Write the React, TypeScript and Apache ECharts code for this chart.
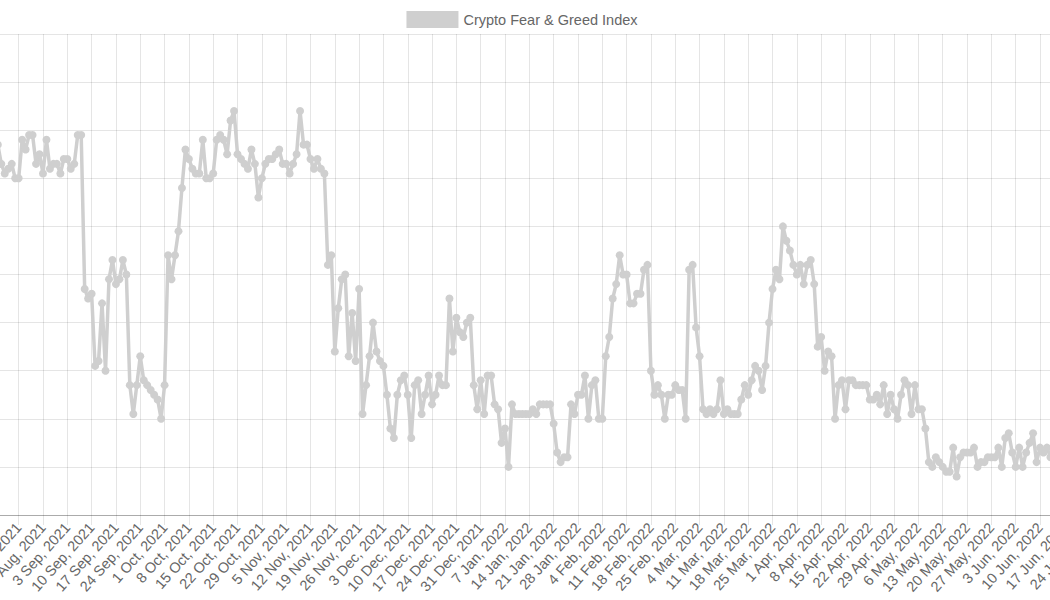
import React, { useEffect, useRef } from "react";
import * as echarts from "echarts";

const SERIES_NAME = "Crypto Fear & Greed Index";
const LINE_COLOR = "#cfcfcf";
const FONT = "'Liberation Sans', Arial, Helvetica, sans-serif";

// Daily categories: 13 Aug 2021 .. 24 Jun 2022
const START_UTC = Date.UTC(2021, 7, 13);
const CATEGORY_DAYS = 316;
const MONTH_NAMES = ["Jan", "Feb", "Mar", "Apr", "May", "Jun", "Jul", "Aug", "Sep", "Oct", "Nov", "Dec"];

// Fear & Greed index values per month
const aug2021 = [74, 77, 73, 71, 72, 73, 70, 70, 78, 76, 79, 79, 73, 75, 71, 78, 72, 73, 73];
const sep2021 = [71, 74, 74, 72, 73, 79, 79, 47, 45, 46, 31, 32, 44, 30, 49, 53, 48, 49, 53, 50, 27, 21, 27, 33, 28, 27, 26, 25, 24, 20];
const oct2021 = [27, 54, 49, 54, 59, 68, 76, 74, 72, 71, 71, 78, 70, 70, 71, 78, 79, 78, 75, 82, 84, 75, 74, 73, 72, 76, 73, 66, 70, 73, 74];
const nov2021 = [74, 75, 76, 73, 73, 71, 73, 75, 84, 77, 77, 74, 72, 74, 72, 71, 52, 54, 34, 43, 49, 50, 33, 42, 32, 47, 21, 27, 33, 40];
const dec2021 = [34, 32, 31, 25, 18, 16, 25, 28, 29, 25, 16, 27, 28, 21, 25, 29, 23, 25, 29, 27, 27, 45, 34, 41, 38, 37, 40, 41, 27, 22, 28];
const jan2022 = [21, 29, 29, 23, 22, 15, 18, 10, 23, 21, 21, 21, 21, 21, 22, 21, 23, 23, 23, 23, 19, 13, 11, 12, 12, 23, 21, 25, 25, 29, 20];
const feb2022 = [27, 28, 20, 20, 33, 37, 45, 48, 54, 50, 50, 44, 44, 46, 46, 51, 52, 30, 25, 27, 25, 20, 25, 25, 27, 26, 26, 20];
const mar2022 = [51, 52, 39, 33, 22, 21, 22, 21, 22, 28, 21, 22, 21, 21, 21, 24, 27, 25, 28, 31, 30, 26, 31, 40, 47, 51, 49, 60, 57, 55, 52];
const apr2022 = [50, 52, 48, 52, 53, 48, 35, 37, 30, 34, 33, 20, 27, 28, 22, 28, 28, 27, 27, 27, 27, 24, 24, 25, 23, 27, 21, 25, 22, 20];
const may2022 = [25, 28, 27, 21, 27, 22, 22, 18, 11, 10, 12, 11, 10, 9, 9, 14, 8, 12, 13, 13, 13, 14, 10, 11, 11, 12, 12, 12, 14, 10, 16];
const jun2022 = [17, 13, 10, 14, 10, 13, 15, 17, 11, 14, 13, 14, 12];

const fearGreedValues: number[] = [
  ...aug2021, ...sep2021, ...oct2021, ...nov2021, ...dec2021,
  ...jan2022, ...feb2022, ...mar2022, ...apr2022, ...may2022, ...jun2022,
];

function buildCategories(): string[] {
  const out: string[] = [];
  for (let i = 0; i < CATEGORY_DAYS; i++) {
    const d = new Date(START_UTC + i * 86400000);
    out.push(`${d.getUTCDate()} ${MONTH_NAMES[d.getUTCMonth()]}, ${d.getUTCFullYear()}`);
  }
  return out;
}

const dateCategories = buildCategories();

export default function App() {
  const ref = useRef<HTMLDivElement>(null);

  useEffect(() => {
    if (!ref.current) return;
    const chart = echarts.init(ref.current, undefined, { renderer: "svg" });
    chart.setOption({
      animation: false,
      backgroundColor: "#ffffff",
      legend: {
        top: 6,
        left: "center",
        icon: "rect",
        itemWidth: 52,
        itemHeight: 17,
        itemGap: 10,
        textStyle: { color: "#666666", fontSize: 14.5, fontFamily: FONT },
        data: [{ name: SERIES_NAME, itemStyle: { color: LINE_COLOR } }],
      },
      grid: {
        left: 54.35,
        right: 15.35,
        top: 34,
        bottom: 85,
        containLabel: false,
        outerBoundsMode: "none",
      },
      xAxis: {
        type: "category",
        data: dateCategories,
        boundaryGap: false,
        axisLine: { show: true, lineStyle: { color: "rgba(0,0,0,0.25)", width: 1 } },
        axisTick: { show: true, interval: 6, length: 10, lineStyle: { color: "rgba(0,0,0,0.1)" } },
        splitLine: { show: true, interval: 6, lineStyle: { color: "rgba(0,0,0,0.1)", width: 1 } },
        axisLabel: {
          interval: 6,
          rotate: 48,
          margin: 10,
          color: "#666666",
          fontSize: 14.5,
          fontFamily: FONT,
        },
      },
      yAxis: {
        type: "value",
        min: 0,
        max: 100,
        interval: 10,
        axisLabel: { show: false },
        axisLine: { show: false },
        axisTick: { show: false },
        splitLine: { show: true, lineStyle: { color: "rgba(0,0,0,0.1)", width: 1 } },
      },
      series: [
        {
          name: SERIES_NAME,
          type: "line",
          data: fearGreedValues,
          symbol: "circle",
          symbolSize: 8,
          showAllSymbol: true,
          smooth: false,
          lineStyle: { color: LINE_COLOR, width: 3.5 },
          itemStyle: { color: LINE_COLOR },
        },
      ],
    });
    return () => chart.dispose();
  }, []);

  return (
    <div
      style={{
        position: "fixed",
        left: 0,
        top: 0,
        width: 1050,
        height: 600,
        overflow: "hidden",
        background: "#ffffff",
      }}
    >
      <div ref={ref} style={{ position: "absolute", left: -60, top: 0, width: 1164, height: 600 }} />
    </div>
  );
}
